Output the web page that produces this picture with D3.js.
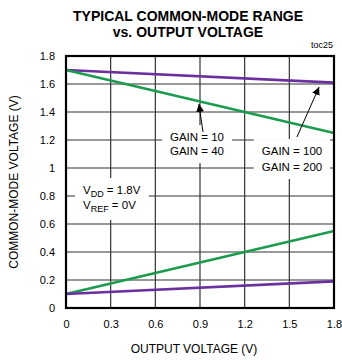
<!DOCTYPE html>
<html>
<head>
<meta charset="utf-8">
<script src="https://cdn.jsdelivr.net/npm/d3@7"></script>
<style>
  body { margin: 0; background: #fff; }
  text { font-family: "Liberation Sans", Arial, sans-serif; fill: #000; }
</style>
</head>
<body>
<script>
// chart values
const xTicks = [0, 0.3, 0.6, 0.9, 1.2, 1.5, 1.8]
const yTicks = [0, 0.2, 0.4, 0.6, 0.8, 1, 1.2, 1.4, 1.6, 1.8]
const outV = [0, 1.8]
const purpleTop = [1.70, 1.61]
const greenTop = [1.70, 1.25]
const greenBottom = [0.10, 0.55]
const purpleBottom = [0.10, 0.19]
const series = [
  { vals: purpleTop, color: "#6b2fa0" },
  { vals: greenTop, color: "#1c9b4f" },
  { vals: greenBottom, color: "#1c9b4f" },
  { vals: purpleBottom, color: "#6b2fa0" }
]
// annotations (data units)
const labels = [
  { x: 0.88, y: [1.221, 1.121], lines: ["GAIN = 10", "GAIN = 40"], anchor: "middle" },
  { x: 1.518, y: [1.121, 1.007], lines: ["GAIN = 100", "GAIN = 200"], anchor: "middle" },
  { x: 0.114, y: [0.843, 0.736], lines: [["V", "DD", " = 1.8V"], ["V", "REF", " = 0V"]], anchor: "start" }
]
const arrows = [
  { from: [0.92, 1.257], to: [0.893, 1.457] },
  { from: [1.551, 1.221], to: [1.70, 1.579] }
]

const W = 342, H = 360
const m = { l: 66, r: 334, t: 56, b: 308 }

const svg = d3.select("body").append("svg").attr("width", W).attr("height", H)

const x = d3.scaleLinear().domain([0, 1.8]).range([m.l, m.r])
const y = d3.scaleLinear().domain([0, 1.8]).range([m.b, m.t])

// title
svg.append("text").attr("x", 188).attr("y", 21).attr("text-anchor", "middle")
  .style("font-size", "14px").style("font-weight", "bold").text("TYPICAL COMMON-MODE RANGE")
svg.append("text").attr("x", 188).attr("y", 37).attr("text-anchor", "middle")
  .style("font-size", "14px").style("font-weight", "bold").text("vs. OUTPUT VOLTAGE")
svg.append("text").attr("x", 333).attr("y", 48).attr("text-anchor", "end")
  .style("font-size", "9px").text("toc25")

// grid
svg.append("g").selectAll("line").data(xTicks.slice(1, -1)).enter().append("line")
  .attr("x1", d => x(d)).attr("x2", d => x(d)).attr("y1", m.t).attr("y2", m.b)
  .attr("stroke", "#333").attr("stroke-width", 1.2)
svg.append("g").selectAll("line").data(yTicks.slice(1, -1)).enter().append("line")
  .attr("x1", m.l).attr("x2", m.r).attr("y1", d => y(d)).attr("y2", d => y(d))
  .attr("stroke", "#333").attr("stroke-width", 1.2)

// axes labels
const xAxis = svg.append("g").attr("transform", "translate(0," + m.b + ")")
  .call(d3.axisBottom(x).tickValues(xTicks).tickSize(0).tickPadding(12).tickFormat(d3.format("")))
xAxis.select(".domain").remove()
xAxis.selectAll("text").style("font-size", "11px").style("font-family", "Liberation Sans, Arial, sans-serif")
const yAxis = svg.append("g").attr("transform", "translate(" + m.l + ",0)")
  .call(d3.axisLeft(y).tickValues(yTicks).tickSize(0).tickPadding(11).tickFormat(d3.format("")))
yAxis.select(".domain").remove()
yAxis.selectAll("text").style("font-size", "11px").style("font-family", "Liberation Sans, Arial, sans-serif")

svg.append("text").attr("x", (m.l + m.r) / 2 - 6).attr("y", 353).attr("text-anchor", "middle")
  .style("font-size", "12px").text("OUTPUT VOLTAGE (V)")
svg.append("text").attr("transform", "translate(18," + (m.t + m.b) / 2 + ") rotate(-90)")
  .attr("text-anchor", "middle").style("font-size", "12px").text("COMMON-MODE VOLTAGE (V)")

// label boxes + text
labels.forEach(lb => {
  const g = svg.append("g")
  const box = g.append("rect").attr("fill", "#fff")
  lb.lines.forEach((ln, i) => {
    const t = g.append("text").attr("x", x(lb.x)).attr("y", y(lb.y[i]) + 4)
      .attr("text-anchor", lb.anchor).style("font-size", "11.5px")
    if (typeof ln === "string") t.text(ln)
    else {
      t.append("tspan").text(ln[0])
      t.append("tspan").attr("dy", 3).style("font-size", "9px").text(ln[1])
      t.append("tspan").attr("dy", -3).text(ln[2])
    }
  })
  const bb = g.node().getBBox()
  box.attr("x", bb.x - 8).attr("y", bb.y - 6).attr("width", bb.width + 16).attr("height", bb.height + 12)
})

// curves
const line = d3.line().x((d, i) => x(outV[i])).y(d => y(d))
svg.append("g").selectAll("path").data(series).enter().append("path")
  .attr("d", d => line(d.vals)).attr("fill", "none")
  .attr("stroke", d => d.color).attr("stroke-width", 2.6)

// arrows
svg.append("defs").append("marker").attr("id", "ah").attr("viewBox", "0 0 10 10")
  .attr("refX", 10).attr("refY", 5).attr("markerWidth", 8).attr("markerHeight", 10)
  .attr("markerUnits", "userSpaceOnUse").attr("orient", "auto")
  .append("path").attr("d", "M0,0 L10,5 L0,10 Z").attr("fill", "#000")
svg.append("g").selectAll("line").data(arrows).enter().append("line")
  .attr("x1", d => x(d.from[0])).attr("y1", d => y(d.from[1]))
  .attr("x2", d => x(d.to[0])).attr("y2", d => y(d.to[1]))
  .attr("stroke", "#000").attr("stroke-width", 1).attr("marker-end", "url(#ah)")

// frame
svg.append("rect").attr("x", m.l).attr("y", m.t).attr("width", m.r - m.l).attr("height", m.b - m.t)
  .attr("fill", "none").attr("stroke", "#000").attr("stroke-width", 2.2)
</script>
</body>
</html>
